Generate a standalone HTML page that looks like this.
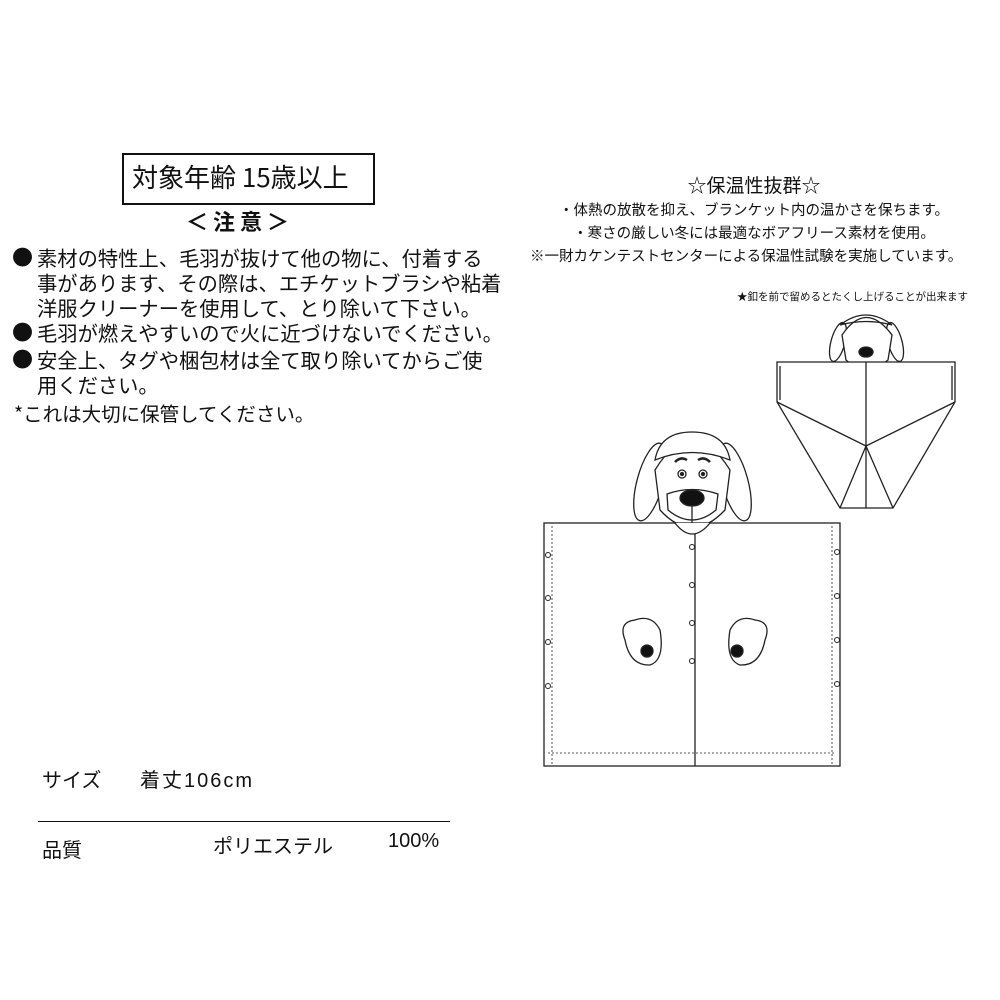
<!DOCTYPE html>
<html><head><meta charset="utf-8"><style>
body{margin:0;background:#fff;}
#p{position:relative;width:1000px;height:1000px;overflow:hidden;font-family:"Liberation Sans","Noto Sans CJK JP",sans-serif;color:#111;}
.t{position:absolute;white-space:nowrap;}
.l{font-size:20.3px;line-height:25px;font-family:"Noto Sans CJK JP",sans-serif;}
.b{position:absolute;font-size:21px;line-height:25px;font-family:"Noto Sans CJK JP",sans-serif;}
</style></head><body><div id="p">
<div class="t" style="left:122px;top:153px;width:249px;height:48px;border:2.5px solid #111;"></div>
<div class="t" style="left:132px;top:158px;font-size:26px;font-family:'Noto Sans CJK JP',sans-serif;">対象年齢 15歳以上</div>
<div class="t" style="left:186px;top:205px;font-size:22px;font-weight:bold;font-family:'Noto Sans CJK JP',sans-serif;">＜ 注 意 ＞</div>
<div class="b" style="left:12px;top:245px;">●</div>
<div class="t l" style="left:37px;top:245px;">素材の特性上、毛羽が抜けて他の物に、付着する</div>
<div class="t l" style="left:37px;top:270px;">事があります、その際は、エチケットブラシや粘着</div>
<div class="t l" style="left:37px;top:295px;">洋服クリーナーを使用して、とり除いて下さい。</div>
<div class="b" style="left:12px;top:320px;">●</div>
<div class="t l" style="left:37px;top:320px;">毛羽が燃えやすいので火に近づけないでください。</div>
<div class="b" style="left:12px;top:347px;">●</div>
<div class="t l" style="left:37px;top:347px;">安全上、タグや梱包材は全て取り除いてからご使</div>
<div class="t l" style="left:37px;top:372px;">用ください。</div>
<div class="t l" style="left:14px;top:400px;font-size:19.5px;">*これは大切に保管してください。</div>

<div class="t" style="left:0;width:1508px;top:171px;text-align:center;font-size:19px;font-family:'Noto Sans CJK JP',sans-serif;">☆保温性抜群☆</div>
<div class="t" style="left:0;width:1508px;top:199px;text-align:center;font-size:14.5px;">・体熱の放散を抑え、ブランケット内の温かさを保ちます。</div>
<div class="t" style="left:0;width:1508px;top:222px;text-align:center;font-size:14.5px;">・寒さの厳しい冬には最適なボアフリース素材を使用。</div>
<div class="t" style="left:530px;top:245px;font-size:14.5px;">※一財カケンテストセンターによる保温性試験を実施しています。</div>
<div class="t" style="left:737px;top:289px;font-size:10.5px;">★釦を前で留めるとたくし上げることが出来ます</div>

<div class="t" style="left:42px;top:764px;font-size:20px;">サイズ</div>
<div class="t" style="left:140px;top:764px;font-size:20px;letter-spacing:2px;">着丈106cm</div>
<div class="t" style="left:38px;top:821px;width:412px;border-top:1.5px solid #111;"></div>
<div class="t" style="left:42px;top:834px;font-size:20px;">品質</div>
<div class="t" style="left:213px;top:830px;font-size:20px;">ポリエステル</div>
<div class="t" style="left:388px;top:830px;font-size:20px;">100%</div>

<svg class="t" style="left:0;top:0" width="1000" height="1000" fill="none" stroke="#222" stroke-width="1.3">
<g>
<ellipse cx="650" cy="482" rx="13" ry="40" transform="rotate(15 650 482)" fill="#fff"/>
<ellipse cx="735" cy="482" rx="13" ry="40" transform="rotate(-15 735 482)" fill="#fff"/>
<path d="M655 470 Q692 410 730 470 L725 510 Q692 545 660 510 Z" fill="#fff"/>
<path d="M655 460 Q660 432 692 432 Q725 432 730 460 Q692 445 655 460Z" fill="#fff"/>
<path d="M667 494 Q692 485 718 494 L716 510 Q692 530 668 510Z"/>
<path d="M675 462 q6 -6 12 -2 M698 460 q6 -4 12 2" stroke-width="2.5"/>
<circle cx="682" cy="474" r="4"/><circle cx="703" cy="474" r="4"/>
<circle cx="682" cy="474" r="1.5" fill="#222"/><circle cx="703" cy="474" r="1.5" fill="#222"/>
<ellipse cx="692" cy="498" rx="12" ry="8" fill="#111"/>
<path d="M692 505 V528"/>
<rect x="544" y="523" width="296" height="243" fill="#fff"/>
<path d="M552 526 V764 M832 526 V764 M548 753 H836" stroke-dasharray="2 2" stroke-width="0.8"/>
<path d="M695 523 V766"/>
<path d="M675 523 Q692 545 710 523" fill="#fff"/>
<g stroke-width="1">
<circle cx="548" cy="555" r="2.5"/><circle cx="548" cy="598" r="2.5"/><circle cx="548" cy="642" r="2.5"/><circle cx="548" cy="686" r="2.5"/>
<circle cx="837" cy="552" r="2.5"/><circle cx="837" cy="596" r="2.5"/><circle cx="837" cy="640" r="2.5"/><circle cx="837" cy="684" r="2.5"/>
<circle cx="692" cy="547" r="2.5"/><circle cx="692" cy="585" r="2.5"/><circle cx="692" cy="623" r="2.5"/><circle cx="692" cy="661" r="2.5"/>
</g>
<path d="M625 640 Q618 622 635 620 Q652 614 660 630 Q665 660 650 665 Q630 666 625 640Z" fill="#fff"/>
<circle cx="647" cy="651" r="6" fill="#111"/>
<path d="M765 640 Q772 622 755 620 Q738 614 730 630 Q725 660 740 665 Q760 666 765 640Z" fill="#fff"/>
<circle cx="737" cy="651" r="6" fill="#111"/>
</g>
<g>
<ellipse cx="838" cy="342" rx="7" ry="20" transform="rotate(15 838 342)" fill="#fff"/>
<ellipse cx="895" cy="342" rx="7" ry="20" transform="rotate(-15 895 342)" fill="#fff"/>
<path d="M842 335 Q866 300 892 335 L888 360 Q866 378 846 360Z" fill="#fff"/>
<path d="M840 325 Q866 305 892 325 Q866 318 840 325Z"/>
<ellipse cx="866" cy="352" rx="7" ry="5" fill="#111"/>
<path d="M777 362 H955 V402 L893 508 H840 L777 402Z" fill="#fff"/>
<path d="M777 402 L866 446 L955 402 M866 446 L840 508 M866 446 L893 508 M866 362 V508"/>
<path d="M780 366 V400 M952 366 V400"/>
</g>
</svg>
</div></body></html>
